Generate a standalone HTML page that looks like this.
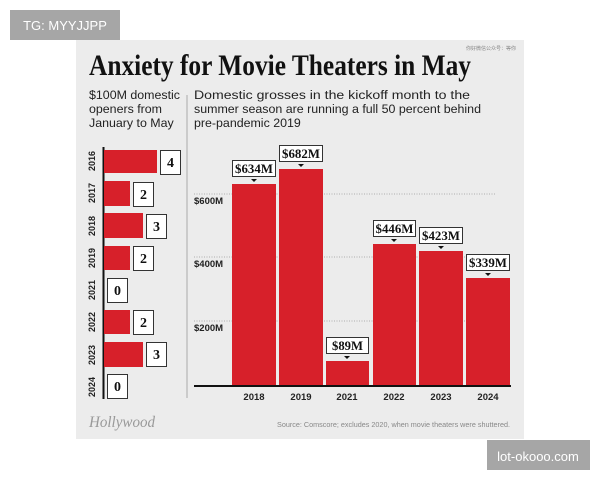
<!DOCTYPE html>
<html><head><meta charset="utf-8"><style>
html,body{margin:0;padding:0;background:#fff;}
svg{display:block;}
</style></head><body>
<svg width="600" height="480" viewBox="0 0 600 480" xmlns="http://www.w3.org/2000/svg" font-family="Liberation Sans, sans-serif">
<rect x="10" y="10" width="110" height="30" fill="#a6a6a6"/>
<text x="65" y="30" fill="#fff" font-size="13" text-anchor="middle">TG: MYYJJPP</text>
<rect x="76" y="40" width="448" height="399" fill="#ececec"/>
<rect x="487" y="440" width="103" height="30" fill="#a6a6a6"/>
<text x="538" y="461" fill="#fff" font-size="13" text-anchor="middle">lot-okooo.com</text>
<text x="516" y="50" fill="#888" font-size="5" text-anchor="end" font-family="Noto Sans CJK SC, sans-serif">你好微信公众号：等你</text>
<text x="89" y="75" font-family="Liberation Serif, serif" font-weight="bold" font-size="30" textLength="382" lengthAdjust="spacingAndGlyphs" fill="#111">Anxiety for Movie Theaters in May</text>
<g font-size="12.4" fill="#222">
<text x="89" y="99" textLength="91" lengthAdjust="spacingAndGlyphs">$100M domestic</text>
<text x="89" y="113">openers from</text>
<text x="89" y="127">January to May</text>
<text x="194" y="99" textLength="276" lengthAdjust="spacingAndGlyphs">Domestic grosses in the kickoff month to the</text>
<text x="194" y="113" textLength="287" lengthAdjust="spacingAndGlyphs">summer season are running a full 50 percent behind</text>
<text x="194" y="127">pre-pandemic 2019</text>
</g>
<line x1="187" y1="95" x2="187" y2="398" stroke="#aaa" stroke-width="1"/>
<line x1="103.5" y1="147" x2="103.5" y2="399" stroke="#111" stroke-width="2"/>
<g font-size="9" font-weight="bold" fill="#222">
<text transform="translate(95,161) rotate(-90)" text-anchor="middle">2016</text>
<text transform="translate(95,193) rotate(-90)" text-anchor="middle">2017</text>
<text transform="translate(95,226) rotate(-90)" text-anchor="middle">2018</text>
<text transform="translate(95,258) rotate(-90)" text-anchor="middle">2019</text>
<text transform="translate(95,290) rotate(-90)" text-anchor="middle">2021</text>
<text transform="translate(95,322) rotate(-90)" text-anchor="middle">2022</text>
<text transform="translate(95,355) rotate(-90)" text-anchor="middle">2023</text>
<text transform="translate(95,387) rotate(-90)" text-anchor="middle">2024</text>
</g>
<g fill="#d7202a">
<rect x="104" y="150" width="53" height="23"/>
<rect x="104" y="181" width="26" height="25"/>
<rect x="104" y="213" width="39" height="25"/>
<rect x="104" y="246" width="26" height="24"/>
<rect x="104" y="310" width="26" height="24"/>
<rect x="104" y="342" width="39" height="25"/>
</g>
<g fill="#fff" stroke="#333" stroke-width="1">
<rect x="160.5" y="150.5" width="20" height="24"/>
<rect x="133.5" y="182.5" width="20" height="24"/>
<rect x="146.5" y="214.5" width="20" height="24"/>
<rect x="133.5" y="246.5" width="20" height="24"/>
<rect x="107.5" y="278.5" width="20" height="24"/>
<rect x="133.5" y="310.5" width="20" height="24"/>
<rect x="146.5" y="342.5" width="20" height="24"/>
<rect x="107.5" y="374.5" width="20" height="24"/>
</g>
<g font-family="Liberation Serif, serif" font-weight="bold" font-size="14" fill="#111" text-anchor="middle">
<text x="170.5" y="167">4</text><text x="143.5" y="199">2</text><text x="156.5" y="231">3</text>
<text x="143.5" y="263">2</text><text x="117.5" y="295">0</text><text x="143.5" y="327">2</text>
<text x="156.5" y="359">3</text><text x="117.5" y="391">0</text>
</g>
<g stroke="#999" stroke-width="0.8" stroke-dasharray="1,1.5">
<line x1="194" y1="194" x2="495" y2="194"/>
<line x1="194" y1="257" x2="495" y2="257"/>
<line x1="194" y1="321" x2="495" y2="321"/>
</g>
<g font-size="9.5" font-weight="bold" fill="#222">
<text x="194" y="204">$600M</text><text x="194" y="267">$400M</text><text x="194" y="331">$200M</text>
</g>
<g fill="#d7202a">
<rect x="232" y="184" width="44" height="202"/>
<rect x="279" y="169" width="44" height="217"/>
<rect x="326" y="361" width="43" height="25"/>
<rect x="373" y="244" width="43" height="142"/>
<rect x="419" y="251" width="44" height="135"/>
<rect x="466" y="278" width="44" height="108"/>
</g>
<line x1="194" y1="386" x2="511" y2="386" stroke="#111" stroke-width="2"/>
<g font-size="9.5" font-weight="bold" fill="#222" text-anchor="middle">
<text x="254" y="400">2018</text><text x="301" y="400">2019</text><text x="347" y="400">2021</text>
<text x="394" y="400">2022</text><text x="441" y="400">2023</text><text x="488" y="400">2024</text>
</g>
<g stroke="#333" stroke-width="1" fill="#fff">
<rect x="232.5" y="160.5" width="43" height="16"/>
<rect x="279.5" y="145.5" width="43" height="16"/>
<rect x="326.5" y="337.5" width="42" height="16"/>
<rect x="373.5" y="220.5" width="42" height="16"/>
<rect x="419.5" y="227.5" width="43" height="16"/>
<rect x="466.5" y="254.5" width="43" height="16"/>
</g>
<g fill="#111">
<path d="M251,179h6l-3,3z"/><path d="M298,164h6l-3,3z"/><path d="M344,356h6l-3,3z"/>
<path d="M391,239h6l-3,3z"/><path d="M438,246h6l-3,3z"/><path d="M485,273h6l-3,3z"/>
</g>
<g font-family="Liberation Serif, serif" font-weight="bold" font-size="13" fill="#111" text-anchor="middle">
<text x="254" y="173" textLength="38" lengthAdjust="spacingAndGlyphs">$634M</text>
<text x="301" y="158" textLength="38" lengthAdjust="spacingAndGlyphs">$682M</text>
<text x="347.5" y="350" textLength="31" lengthAdjust="spacingAndGlyphs">$89M</text>
<text x="394.5" y="233" textLength="38" lengthAdjust="spacingAndGlyphs">$446M</text>
<text x="441" y="240" textLength="38" lengthAdjust="spacingAndGlyphs">$423M</text>
<text x="488" y="267" textLength="38" lengthAdjust="spacingAndGlyphs">$339M</text>
</g>
<text x="89" y="427" font-family="Liberation Serif, serif" font-style="italic" font-size="16" fill="#999" textLength="66" lengthAdjust="spacingAndGlyphs">Hollywood</text>
<text x="510" y="427" font-size="7" fill="#888" text-anchor="end" textLength="233" lengthAdjust="spacingAndGlyphs">Source: Comscore; excludes 2020, when movie theaters were shuttered.</text>
</svg>
</body></html>
